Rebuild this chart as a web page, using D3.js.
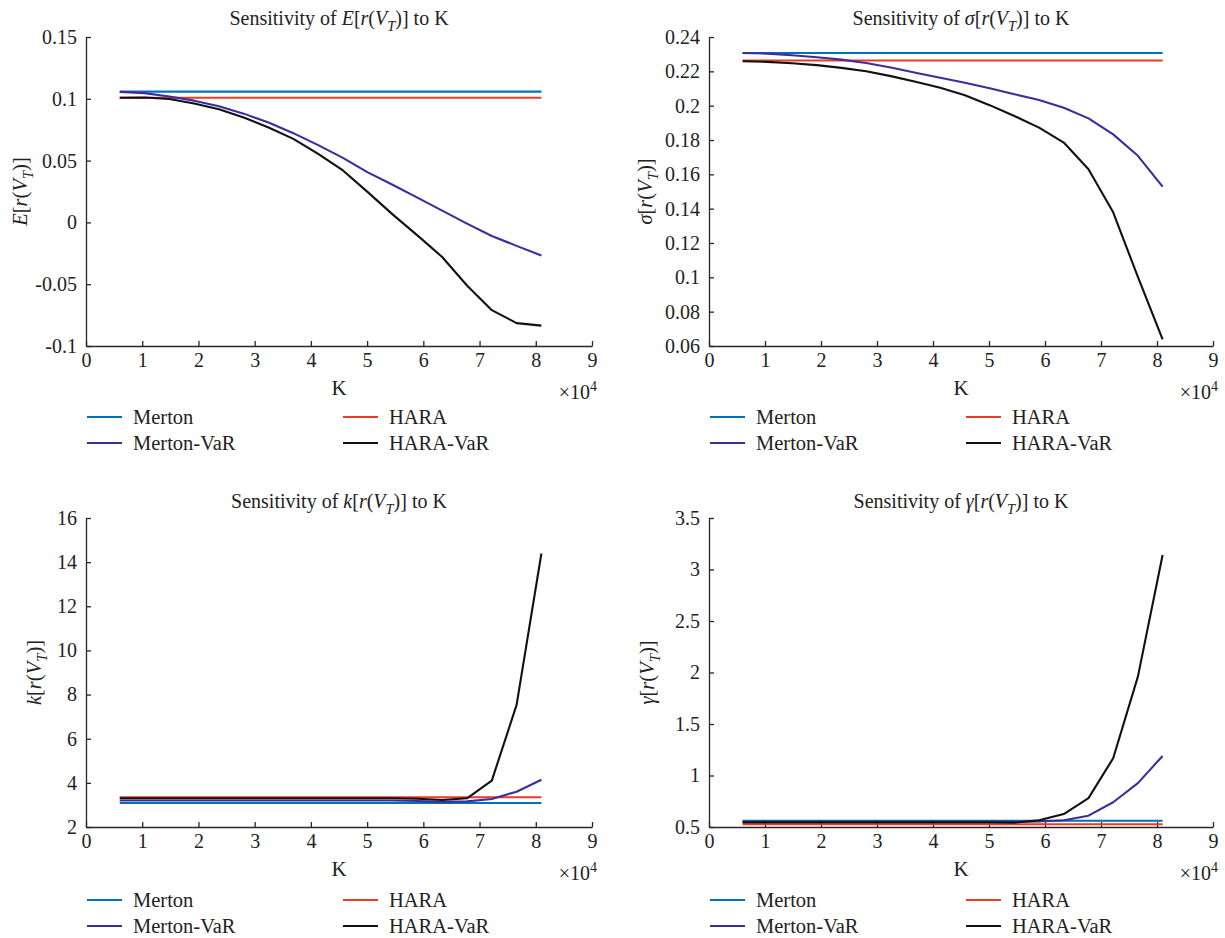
<!DOCTYPE html>
<html>
<head>
<meta charset="utf-8">
<script src="https://cdn.jsdelivr.net/npm/d3@7"></script>
<style>
  html, body { margin: 0; padding: 0; background: #fff; }
  svg text { font-family: "Liberation Serif", "Times New Roman", serif; fill: #222; }
</style>
</head>
<body>
<svg id="chart" width="1225" height="938"></svg>
<script>
// ---------------- data ----------------
const K = [6000, 10412, 14824, 19235, 23647, 28059, 32471, 36882, 41294, 45706, 50118, 54529, 58941, 63353, 67765, 72176, 76588, 81000];

const seriesNames = ["Merton", "HARA", "Merton-VaR", "HARA-VaR"];
const seriesColors = ["#0072BD", "#EC3B24", "#3F2C9C", "#111111"];

// E[r(V_T)]
const eMerton    = [0.1058, 0.1058, 0.1058, 0.1058, 0.1058, 0.1058, 0.1058, 0.1058, 0.1058, 0.1058, 0.1058, 0.1058, 0.1058, 0.1058, 0.1058, 0.1058, 0.1058, 0.1058];
const eHARA      = [0.1008, 0.1008, 0.1008, 0.1008, 0.1008, 0.1008, 0.1008, 0.1008, 0.1008, 0.1008, 0.1008, 0.1008, 0.1008, 0.1008, 0.1008, 0.1008, 0.1008, 0.1008];
const eMertonVaR = [0.1056, 0.1046, 0.1019, 0.0985, 0.0940, 0.0880, 0.0808, 0.0722, 0.0625, 0.0522, 0.0405, 0.0305, 0.0200, 0.0095, -0.0010, -0.0110, -0.0190, -0.0268];
const eHARAVaR   = [0.1008, 0.1010, 0.0998, 0.0962, 0.0915, 0.0848, 0.0768, 0.0676, 0.0555, 0.0420, 0.0245, 0.0065, -0.0105, -0.0280, -0.0510, -0.0710, -0.0815, -0.0835];

// sigma[r(V_T)]
const sMerton    = [0.2307, 0.2307, 0.2307, 0.2307, 0.2307, 0.2307, 0.2307, 0.2307, 0.2307, 0.2307, 0.2307, 0.2307, 0.2307, 0.2307, 0.2307, 0.2307, 0.2307, 0.2307];
const sHARA      = [0.2263, 0.2263, 0.2263, 0.2263, 0.2263, 0.2263, 0.2263, 0.2263, 0.2263, 0.2263, 0.2263, 0.2263, 0.2263, 0.2263, 0.2263, 0.2263, 0.2263, 0.2263];
const sMertonVaR = [0.2307, 0.2303, 0.2294, 0.2282, 0.2268, 0.2249, 0.2222, 0.2192, 0.2163, 0.2133, 0.2102, 0.2067, 0.2033, 0.1988, 0.1926, 0.1833, 0.1708, 0.1528];
const sHARAVaR   = [0.2259, 0.2255, 0.2247, 0.2236, 0.2220, 0.2200, 0.2172, 0.2139, 0.2104, 0.2061, 0.2003, 0.1940, 0.1872, 0.1785, 0.1630, 0.1379, 0.1002, 0.0638];

// k[r(V_T)]
const kMerton    = [3.09, 3.09, 3.09, 3.09, 3.09, 3.09, 3.09, 3.09, 3.09, 3.09, 3.09, 3.09, 3.09, 3.09, 3.09, 3.09, 3.09, 3.09];
const kHARA      = [3.35, 3.35, 3.35, 3.35, 3.35, 3.35, 3.35, 3.35, 3.35, 3.35, 3.35, 3.35, 3.35, 3.35, 3.35, 3.35, 3.35, 3.35];
const kMertonVaR = [3.20, 3.20, 3.20, 3.20, 3.20, 3.20, 3.20, 3.20, 3.20, 3.20, 3.20, 3.20, 3.18, 3.14, 3.16, 3.27, 3.60, 4.14];
const kHARAVaR   = [3.30, 3.30, 3.30, 3.30, 3.30, 3.30, 3.30, 3.30, 3.30, 3.30, 3.30, 3.30, 3.28, 3.22, 3.30, 4.10, 7.53, 14.39];

// gamma[r(V_T)]
const gMerton    = [0.561, 0.561, 0.561, 0.561, 0.561, 0.561, 0.561, 0.561, 0.561, 0.561, 0.561, 0.561, 0.561, 0.561, 0.561, 0.561, 0.561, 0.561];
const gHARA      = [0.526, 0.526, 0.526, 0.526, 0.526, 0.526, 0.526, 0.526, 0.526, 0.526, 0.526, 0.526, 0.526, 0.526, 0.526, 0.526, 0.526, 0.526];
const gMertonVaR = [0.550, 0.550, 0.550, 0.550, 0.550, 0.550, 0.550, 0.550, 0.550, 0.550, 0.550, 0.550, 0.553, 0.565, 0.610, 0.740, 0.926, 1.190];
const gHARAVaR   = [0.545, 0.545, 0.545, 0.545, 0.545, 0.545, 0.545, 0.545, 0.545, 0.545, 0.545, 0.542, 0.565, 0.626, 0.780, 1.168, 1.960, 3.140];

// axes ticks
const xTicks = [0, 10000, 20000, 30000, 40000, 50000, 60000, 70000, 80000, 90000];
const xTickLabels = ["0", "1", "2", "3", "4", "5", "6", "7", "8", "9"];
const eTicks = [-0.1, -0.05, 0, 0.05, 0.1, 0.15];
const eTickLabels = ["-0.1", "-0.05", "0", "0.05", "0.1", "0.15"];
const sTicks = [0.06, 0.08, 0.1, 0.12, 0.14, 0.16, 0.18, 0.2, 0.22, 0.24];
const sTickLabels = ["0.06", "0.08", "0.1", "0.12", "0.14", "0.16", "0.18", "0.2", "0.22", "0.24"];
const kTicks = [2, 4, 6, 8, 10, 12, 14, 16];
const kTickLabels = ["2", "4", "6", "8", "10", "12", "14", "16"];
const gTicks = [0.5, 1, 1.5, 2, 2.5, 3, 3.5];
const gTickLabels = ["0.5", "1", "1.5", "2", "2.5", "3", "3.5"];

// ---------------- drawing ----------------
const svg = d3.select("#chart");
const FONT = '"Liberation Serif", "Times New Roman", serif';

const panels = [
  { x0: 86,  x1: 592,  y0: 37,  y1: 346, dom: [-0.1, 0.15], ticks: eTicks, labels: eTickLabels,
    data: [eMerton, eHARA, eMertonVaR, eHARAVaR], sym: "E", labOff: 66, titleY: 25, legY: 417 },
  { x0: 709, x1: 1213, y0: 37,  y1: 346, dom: [0.06, 0.24], ticks: sTicks, labels: sTickLabels,
    data: [sMerton, sHARA, sMertonVaR, sHARAVaR], sym: "σ", labOff: 64, titleY: 25, legY: 417 },
  { x0: 86,  x1: 592,  y0: 518, y1: 827, dom: [2, 16], ticks: kTicks, labels: kTickLabels,
    data: [kMerton, kHARA, kMertonVaR, kHARAVaR], sym: "k", labOff: 52, titleY: 508, legY: 900 },
  { x0: 709, x1: 1213, y0: 518, y1: 827, dom: [0.5, 3.5], ticks: gTicks, labels: gTickLabels,
    data: [gMerton, gHARA, gMertonVaR, gHARAVaR], sym: "γ", labOff: 62, titleY: 508, legY: 900 }
];

function mathText(sel, sym, size) {
  // sym[r(V_T)]
  sel.append("tspan").attr("font-style", "italic").text(sym);
  sel.append("tspan").text("[");
  sel.append("tspan").attr("font-style", "italic").text("r");
  sel.append("tspan").text("(");
  sel.append("tspan").attr("font-style", "italic").text("V");
  sel.append("tspan").attr("font-style", "italic").attr("font-size", size * 0.72).attr("dy", size * 0.28).text("T");
  sel.append("tspan").attr("dy", -size * 0.28).text(")]");
}

panels.forEach(p => {
  const g = svg.append("g");
  const x = d3.scaleLinear().domain([0, 90000]).range([p.x0, p.x1]);
  const y = d3.scaleLinear().domain(p.dom).range([p.y1, p.y0]);

  // x axis
  const xAxis = d3.axisBottom(x).tickValues(xTicks)
    .tickFormat((d, i) => xTickLabels[i]).tickSizeInner(-5).tickSizeOuter(0).tickPadding(7);
  const gx = g.append("g").attr("transform", `translate(0,${p.y1})`).call(xAxis);
  // y axis
  const yAxis = d3.axisLeft(y).tickValues(p.ticks)
    .tickFormat((d, i) => p.labels[i]).tickSizeInner(-5).tickSizeOuter(0).tickPadding(9);
  const gy = g.append("g").attr("transform", `translate(${p.x0},0)`).call(yAxis);

  [gx, gy].forEach(a => {
    a.attr("font-family", FONT);
    a.selectAll("path.domain").attr("stroke", "#262626").attr("stroke-width", 1.3);
    a.selectAll(".tick line").attr("stroke", "#262626").attr("stroke-width", 1.3);
    a.selectAll(".tick text").attr("font-size", 20).attr("fill", "#222").attr("font-family", FONT);
  });

  // lines
  const line = d3.line().x((d, i) => x(K[i])).y(d => y(d));
  p.data.forEach((arr, si) => {
    g.append("path").datum(arr).attr("d", line)
      .attr("fill", "none").attr("stroke", seriesColors[si]).attr("stroke-width", 2.1)
      .attr("stroke-linejoin", "round");
  });

  // title
  const cx = (p.x0 + p.x1) / 2;
  const t = g.append("text").attr("x", cx).attr("y", p.titleY).attr("text-anchor", "middle")
    .attr("font-size", 20).attr("font-family", FONT);
  t.append("tspan").text("Sensitivity of ");
  mathText(t, p.sym, 20);
  t.append("tspan").text(" to K");

  // x label
  g.append("text").attr("x", cx).attr("y", p.y1 + 49).attr("text-anchor", "middle")
    .attr("font-size", 21).attr("font-family", FONT).text("K");
  // exponent
  const ex = g.append("text").attr("x", p.x1 + 5).attr("y", p.y1 + 53).attr("text-anchor", "end")
    .attr("font-size", 20).attr("font-family", FONT);
  ex.append("tspan").text("×10");
  ex.append("tspan").attr("font-size", 14).attr("dy", -8).text("4");

  // y label
  const ly = (p.y0 + p.y1) / 2;
  const yl = g.append("text").attr("transform", `translate(${p.x0 - p.labOff},${ly}) rotate(-90)`)
    .attr("text-anchor", "middle").attr("dy", "0.35em").attr("font-size", 20.5).attr("font-family", FONT);
  mathText(yl, p.sym, 20.5);

  // legend
  const legOrder = [
    { idx: 0, col: 0, row: 0 }, { idx: 1, col: 1, row: 0 },
    { idx: 2, col: 0, row: 1 }, { idx: 3, col: 1, row: 1 }
  ];
  legOrder.forEach(o => {
    const lx = p.x0 + 1 + o.col * 256;
    const yy = p.legY + o.row * 26;
    g.append("line").attr("x1", lx).attr("x2", lx + 35).attr("y1", yy).attr("y2", yy)
      .attr("stroke", seriesColors[o.idx]).attr("stroke-width", 2.1);
    g.append("text").attr("x", lx + 46).attr("y", yy).attr("dy", "0.35em")
      .attr("font-size", 20.5).attr("font-family", FONT).text(seriesNames[o.idx]);
  });
});
</script>
</body>
</html>
